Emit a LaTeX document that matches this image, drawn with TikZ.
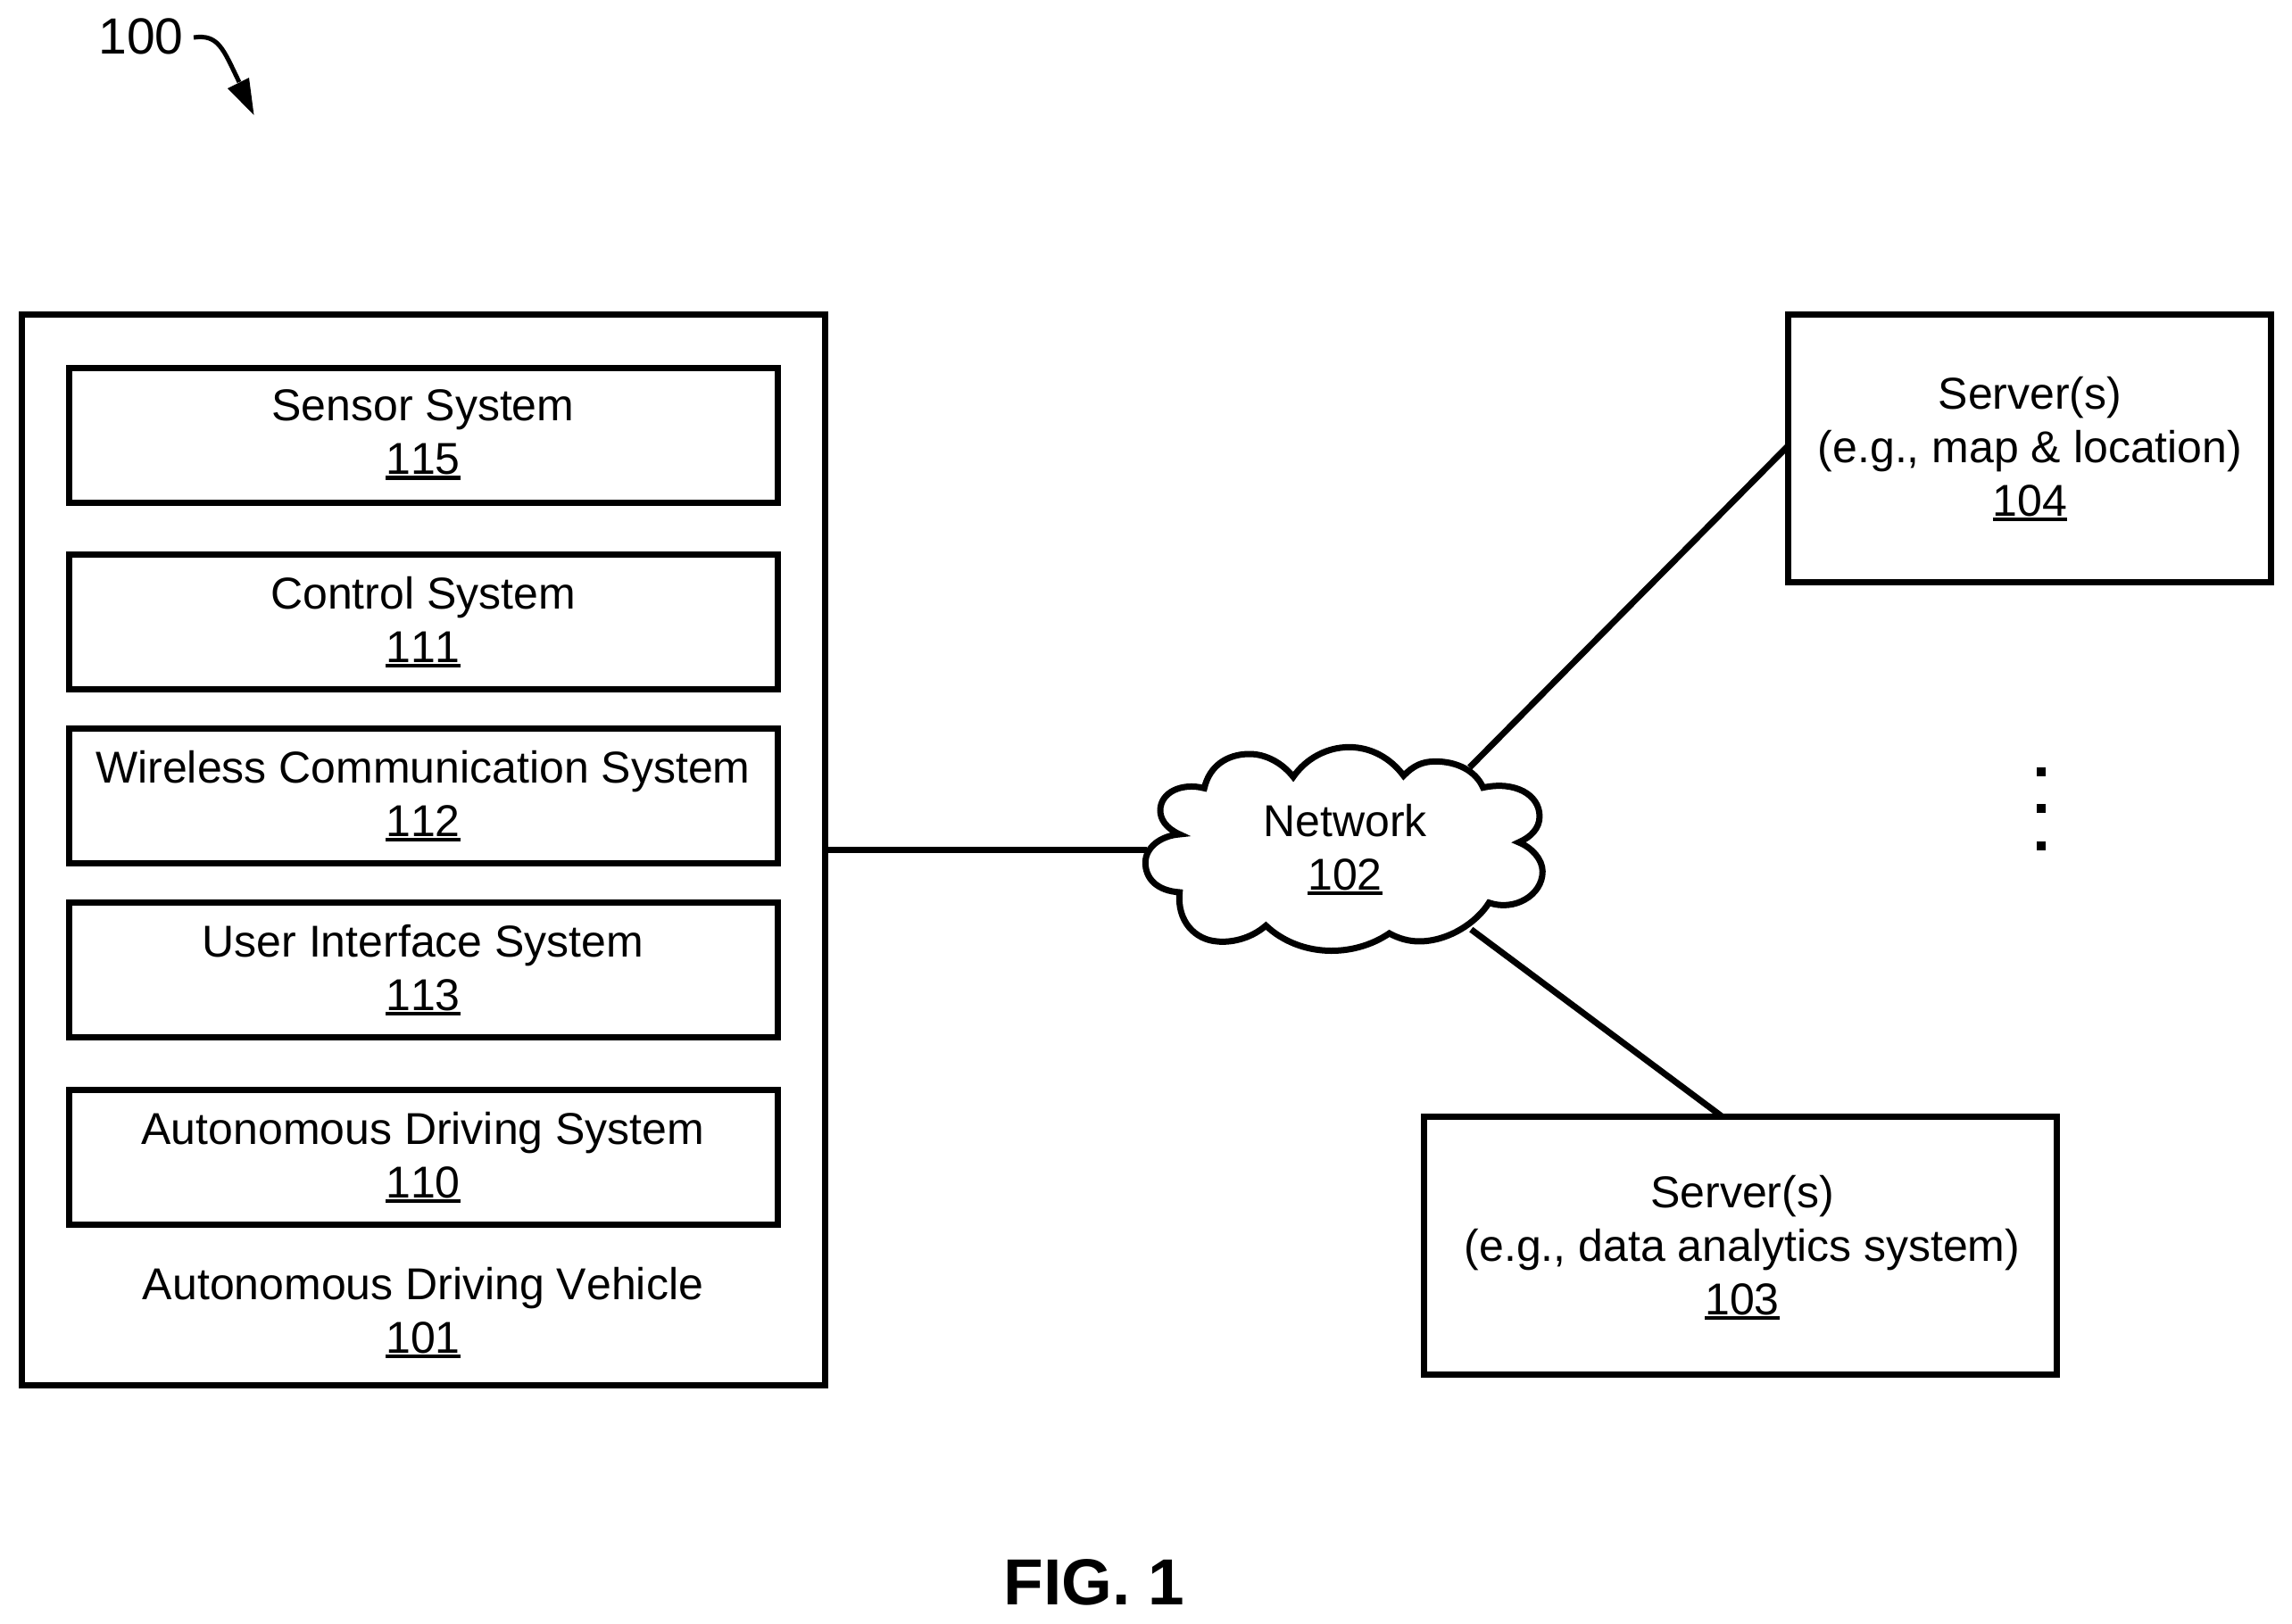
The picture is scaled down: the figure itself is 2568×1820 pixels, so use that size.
\documentclass[tikz,border=0pt]{standalone}
\usepackage{fontspec}
\setmainfont[Kerning=Off]{Liberation Sans}
\newcommand\refnum[1]{\leavevmode\setbox0\hbox{#1}\rlap{\rule[-6pt]{\wd0}{4.5pt}}\box0}
\newcommand\boxtext[2]{\raisebox{-3pt}{\parbox{780pt}{\centering #1\\\refnum{#2}}}}
\tikzset{
  x=1pt,y=-1pt,
  base/.style={line width=7pt,draw=black,line join=miter},
  box/.style={base,rectangle,inner sep=0pt,outer sep=0pt,align=center,font=\fontsize{50}{60}\selectfont},
  txt/.style={inner sep=0pt,align=center,font=\fontsize{50}{60}\selectfont},
  conn/.style={line width=7pt,draw=black},
}
\begin{document}
\begin{tikzpicture}
\useasboundingbox (0,0) rectangle (2568,1820);
% vehicle
\node[box,minimum width=900pt,minimum height=1200pt] (vehicle) at (474,952.5) {};
\node[box,minimum width=794pt,minimum height=151pt] (s115) at (474,487.5) {\boxtext{Sensor System}{115}};
\node[box,minimum width=794pt,minimum height=151pt] (s111) at (474,697) {\boxtext{Control System}{111}};
\node[box,minimum width=794pt,minimum height=151pt] (s112) at (474,892) {\boxtext{Wireless Communication System}{112}};
\node[box,minimum width=794pt,minimum height=151pt] (s113) at (474,1087) {\boxtext{User Interface System}{113}};
\node[box,minimum width=794pt,minimum height=151pt] (s110) at (474,1297) {\boxtext{Autonomous Driving System}{110}};
\node[txt] (vehlabel) at (474,1471) {Autonomous Driving Vehicle\\\refnum{101}};
% servers
\node[box,minimum width=541pt,minimum height=300pt] (srv104) at (2273.5,502) {};
\node[txt] (srv104t) at (2274.5,503) {Server(s)\\(e.g., map \& location)\\\refnum{104}};
\node[box,minimum width=709pt,minimum height=289pt] (srv103) at (1949.5,1395.5) {};
\node[txt] (srv103t) at (1952,1398) {Server(s)\\(e.g., data analytics system)\\\refnum{103}};
% cloud
\begin{scope}[shift={(1250,800)},x=0.3333pt,y=-0.3333pt]
\draw[base,line join=miter] (298,250)
  .. controls (315,175) and (375,135) .. (450,135)
  .. controls (505,135) and (560,165) .. (597,212)
  .. controls (640,150) and (710,112) .. (785,112)
  .. controls (860,112) and (925,150) .. (968,208)
  .. controls (1000,175) and (1030,160) .. (1075,160)
  .. controls (1145,160) and (1210,190) .. (1235,248)
  .. controls (1340,225) and (1425,270) .. (1425,345)
  .. controls (1425,385) and (1395,415) .. (1355,432)
  .. controls (1400,450) and (1435,490) .. (1435,530)
  .. controls (1435,610) and (1340,665) .. (1255,635)
  .. controls (1215,700) and (1120,765) .. (1020,765)
  .. controls (985,765) and (950,755) .. (920,738)
  .. controls (800,820) and (620,820) .. (505,712)
  .. controls (450,760) and (380,770) .. (340,765)
  .. controls (270,760) and (205,700) .. (215,600)
  .. controls (140,595) and (100,555) .. (100,500)
  .. controls (100,450) and (150,410) .. (215,405)
  .. controls (170,385) and (150,355) .. (150,325)
  .. controls (150,265) and (220,230) .. (298,250) -- cycle;
\coordinate (netW) at (105,458);
\coordinate (netNE) at (1190,180);
\coordinate (netSE) at (1195,725);
\end{scope}
\node[txt] (net) at (1507,952) {Network\\\refnum{102}};
% connectors
\coordinate (srv104in) at (2003,500);
\coordinate (srv103in) at (1929,1251);
\draw[conn] (vehicle.east |- netW) -- (netW);
\draw[conn] (netNE) -- (srv104in);
\draw[conn] (netSE) -- (srv103in);
% dots
\fill (2282,860) rectangle (2292,870);
\fill (2282,901) rectangle (2292,911);
\fill (2282,943) rectangle (2292,953);
% 100
\node[txt,anchor=center,font=\fontsize{57}{60}\selectfont] (lab100) at (158,41) {100};
\draw[line width=5pt] (217,42) .. controls (245,38) and (250,55) .. (268,92);
\fill (284.5,129) -- (255,99) -- (279,87) -- cycle;
% fig
\node[inner sep=0pt,font=\fontsize{73}{80}\selectfont\bfseries] (fig) at (1226,1773) {FIG. 1};
\end{tikzpicture}
\end{document}
